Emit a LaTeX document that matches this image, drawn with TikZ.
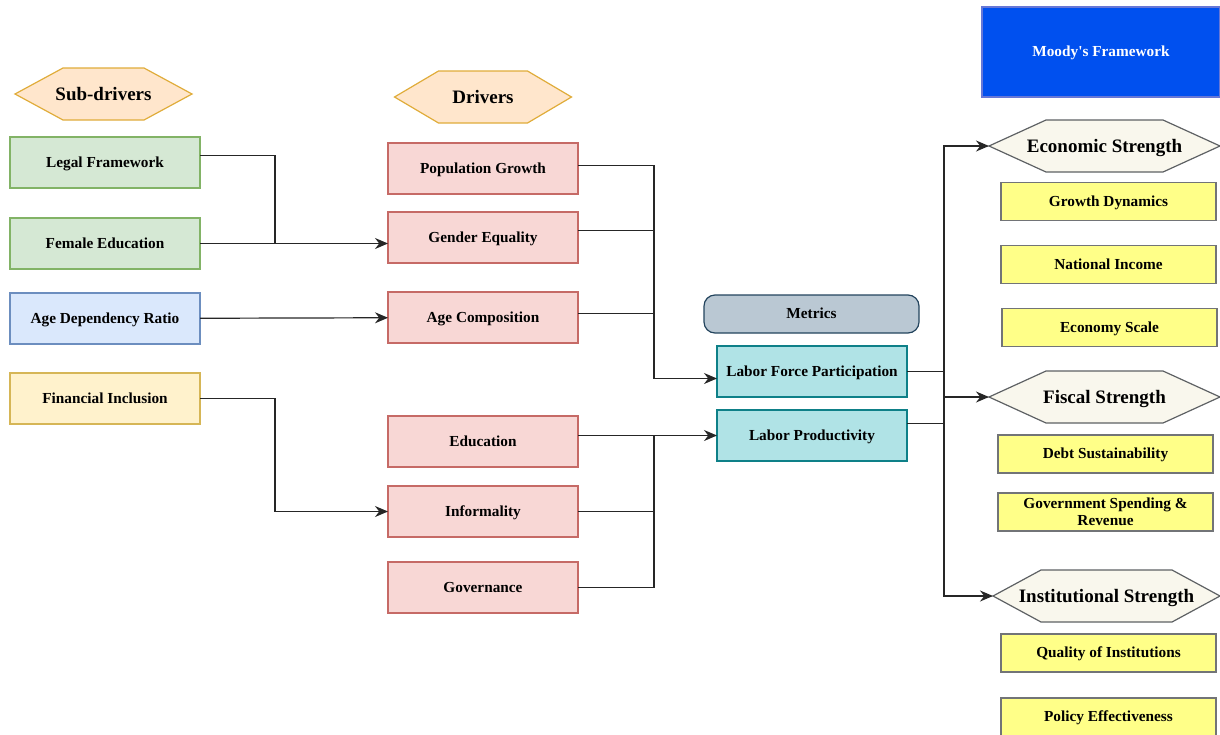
\documentclass[tikz,border=0pt]{standalone}
\usepackage{fontspec}
\setmainfont{Liberation Serif}
\newfontfamily\mfplain{Liberation Serif}
\usepackage{tikz}
\usetikzlibrary{
  arrows.meta,
  positioning,
  calc,
  backgrounds
}
\definecolor{mfOrF}{HTML}{FFE6CC}
\definecolor{mfOrD}{HTML}{E0AC3A}
\definecolor{mfGreenF}{HTML}{D5E8D4}
\definecolor{mfGreenD}{HTML}{82B366}
\definecolor{mfBlueF}{HTML}{DAE8FC}
\definecolor{mfBlueD}{HTML}{6C8EBF}
\definecolor{mfSandF}{HTML}{FFF2CC}
\definecolor{mfSandD}{HTML}{D6B656}
\definecolor{mfRedF}{HTML}{F8D7D5}
\definecolor{mfRedD}{HTML}{C66A66}
\definecolor{mfSlateF}{HTML}{BAC8D3}
\definecolor{mfSlateD}{HTML}{23445D}
\definecolor{mfTealF}{HTML}{B0E3E6}
\definecolor{mfTealD}{HTML}{0E8088}
\definecolor{mfMoody}{HTML}{0050EF}
\definecolor{mfMoodyD}{HTML}{001DBC}
\definecolor{mfCreamF}{HTML}{F9F7ED}
\definecolor{mfGrey}{HTML}{36393D}
\definecolor{mfLemon}{HTML}{FFFF88}
\newcommand\mflbl{\fontsize{15.3}{17.5}\selectfont\bfseries}
\newcommand\mfhex{\fontsize{19}{22}\selectfont\bfseries}
\tikzset{
  mfbox/.style={
    draw, line width=1.2pt, minimum width=190pt, minimum height=51pt,
    font=\mflbl, align=center, inner sep=2pt, outer sep=0pt, text depth=1pt
  },
  subgreen/.style={mfbox, fill=mfGreenF, draw=mfGreenD},
  subblue/.style={mfbox, fill=mfBlueF, draw=mfBlueD},
  subsand/.style={mfbox, fill=mfSandF, draw=mfSandD},
  driver/.style={mfbox, fill=mfRedF, draw=mfRedD},
  metric/.style={mfbox, fill=mfTealF, draw=mfTealD},
  metrichead/.style={mfbox, fill=mfSlateF, draw=mfSlateD, rounded corners=11pt,
    minimum width=215pt, minimum height=38pt},
  factor/.style={mfbox, fill=mfLemon, draw=mfGrey!70, minimum width=215pt,
    minimum height=38pt, inner sep=1pt},
  moody/.style={mfbox, fill=mfMoody, draw=mfMoodyD!60, text=white,
    minimum width=238pt, minimum height=90pt, font=\mflbl\mfplain},
  hexa/.style={minimum width=177pt, minimum height=52pt, font=\mfhex, inner sep=0pt,
    outer sep=0pt, text depth=1pt},
  conn/.style={line width=1.2pt, black!85},
  arr/.style={conn, -{Stealth[length=13pt, width=11pt]}}
}

\begin{document}
\begin{tikzpicture}[x=1pt, y=1pt, node distance=20pt]
  \useasboundingbox (0,0) rectangle (1220,-734);

  % sub-drivers
  \node[hexa] (sd) at (103.5,-94) {Sub-drivers};
  \node[subgreen] (lf) at (105,-162.5) {Legal Framework};
  \node[subgreen, below=30pt of lf] (fe) {Female Education};
  \node[subblue, below=24pt of fe] (ad) {Age Dependency Ratio};
  \node[subsand, below=29pt of ad] (fi) {Financial Inclusion};

  % drivers
  \node[hexa] (dr) at (483,-97) {Drivers};
  \node[driver] (pg) at (483,-168.5) {Population Growth};
  \node[driver, below=18pt of pg] (ge) {Gender Equality};
  \node[driver, below=29pt of ge] (ac) {Age Composition};
  \node[driver, below=73pt of ac] (ed) {Education};
  \node[driver, below=19pt of ed] (inf) {Informality};
  \node[driver, below=25pt of inf] (gov) {Governance};

  % metrics
  \node[metrichead] (met) at (811.5,-314) {Metrics};
  \node[metric] (lfp) at (812,-371.5) {Labor Force Participation};
  \node[metric, below=13pt of lfp] (lp) {Labor Productivity};

  % moody's framework
  \node[moody] (mf) at (1101,-52) {Moody's Framework};
  \node[hexa, minimum width=231pt] (es) at (1104.5,-146) {Economic Strength};
  \node[factor] (gd) at (1108.5,-201.5) {Growth Dynamics};
  \node[factor, below=25pt of gd] (ni) {National Income};
  \node[factor, below=25pt of ni, xshift=1pt] (esc) {Economy Scale};
  \node[hexa, minimum width=231pt] (fs) at (1104.5,-397) {Fiscal Strength};
  \node[factor] (ds) at (1105.5,-454) {Debt Sustainability};
  \node[factor, below=20pt of ds] (gsr) {Government Spending \&\\Revenue};
  \node[hexa, minimum width=227pt] (ist) at (1106.5,-596) {Institutional Strength};
  \node[factor] (qi) at (1108.5,-653) {Quality of Institutions};
  \node[factor, below=26pt of qi] (pe) {Policy Effectiveness};

  % hexagon outlines
  \begin{scope}[on background layer]
    \foreach \n/\d/\f/\c in {sd/48/mfOrF/mfOrD, dr/44/mfOrF/mfOrD,
        es/57/mfCreamF/mfGrey!80, fs/57/mfCreamF/mfGrey!80, ist/48/mfCreamF/mfGrey!80}
      \filldraw[fill=\f, draw=\c, line width=1.2pt]
        (\n.west) -- ([xshift=\d pt]\n.north west) -- ([xshift=-\d pt]\n.north east)
        -- (\n.east) -- ([xshift=-\d pt]\n.south east) -- ([xshift=\d pt]\n.south west) -- cycle;
  \end{scope}

  % sub-drivers to drivers
  \coordinate (j1) at ($(fe.east)+(75,0)$);
  \draw[conn] ([yshift=7pt]lf.east) -| (j1);
  \draw[arr] (fe.east) -- (fe.east -| ge.west);
  \draw[arr] (ad) -- (ac);
  \draw[arr] (fi.east) -- ++(75,0) |- (inf.west);

  % drivers to metrics
  \coordinate (j2) at ($(pg.east)+(76,0)$);
  \coordinate (lfpin) at ([yshift=-7pt]lfp.west);
  \draw[arr] ([yshift=3pt]pg.east) -| (j2 |- lfpin) -- (lfpin);
  \draw[conn] ([yshift=7pt]ge.east) -- ++(76,0);
  \draw[conn] ([yshift=4pt]ac.east) -- ++(76,0);
  \draw[arr] (ed.east |- lp.west) -- (lp.west);
  \draw[conn] (inf.east) -| (j2 |- lp.west);
  \draw[conn] (gov.east) -| (j2 |- lp.west);

  % metrics to framework
  \coordinate (hub) at (944,-397);
  \draw[conn] (lfp.east) -| (hub);
  \draw[conn] ([yshift=12pt]lp.east) -| (hub);
  \draw[arr] (hub) |- (es.west);
  \draw[arr] (hub) -- (fs.west);
  \draw[arr] (hub) |- (ist.west);
\end{tikzpicture}
\end{document}
